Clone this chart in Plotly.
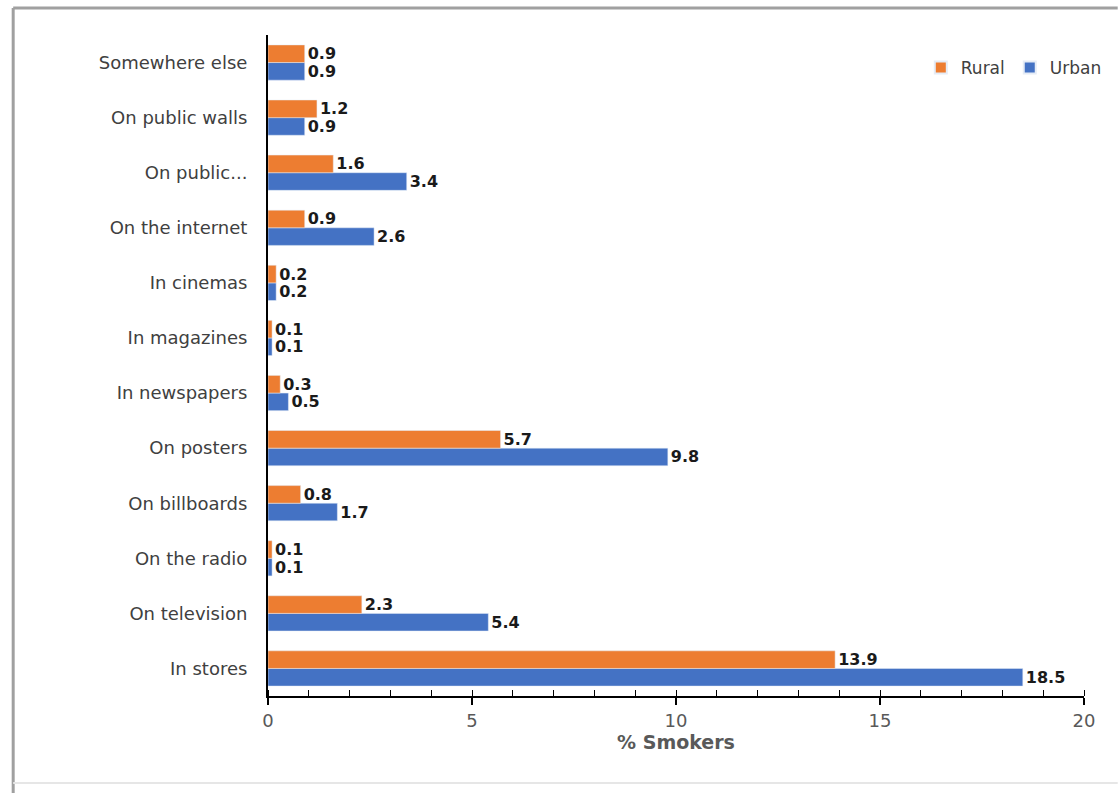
import plotly.graph_objects as go

categories = ["In stores", "On television", "On the radio", "On billboards", "On posters",
              "In newspapers", "In magazines", "In cinemas", "On the internet",
              "On public...", "On public walls", "Somewhere else"]
rural = [13.9, 2.3, 0.1, 0.8, 5.7, 0.3, 0.1, 0.2, 0.9, 1.6, 1.2, 0.9]
urban = [18.5, 5.4, 0.1, 1.7, 9.8, 0.5, 0.1, 0.2, 2.6, 3.4, 0.9, 0.9]

FONT = "DejaVu Sans"
LBL = dict(family=FONT, size=16, color="#1a1a1a", weight="bold")
fig = go.Figure()
fig.add_trace(go.Bar(y=categories, x=urban, name="Urban", orientation="h",
                     marker=dict(color="#4472C4"), text=[f"{v:.1f}" for v in urban],
                     textposition="outside", cliponaxis=False, constraintext="none",
                     textfont=LBL))
fig.add_trace(go.Bar(y=categories, x=rural, name="Rural", orientation="h",
                     marker=dict(color="#ED7D31"), text=[f"{v:.1f}" for v in rural],
                     textposition="outside", cliponaxis=False, constraintext="none",
                     textfont=LBL))

W, H = 1119, 793
L, R, T, B = 268, 28, 35, 97
pw, ph = W - L - R, H - T - B
def px(x): return (x - L) / pw
def py(y): return (H - B - y) / ph

fig.update_layout(
    width=W, height=H,
    margin=dict(l=L, r=R, t=T, b=B),
    barmode="group", bargap=0.36, bargroupgap=0,
    plot_bgcolor="white", paper_bgcolor="white",
    font=dict(family=FONT, size=15, color="#404040"),
    showlegend=True,
    legend=dict(orientation="h", traceorder="reversed", x=px(1114), xanchor="right",
                y=py(50), yanchor="top", font=dict(family=FONT, size=17, color="#404040"),
                itemwidth=30, itemsizing="constant", bgcolor="rgba(0,0,0,0)"),
    xaxis=dict(range=[0, 20], dtick=5, showgrid=False, zeroline=False,
               showline=True, linecolor="black", linewidth=2,
               ticks="outside", ticklen=7, tickcolor="black", tickwidth=2,
               minor=dict(dtick=1, ticks="inside", ticklen=6, tickcolor="black", tickwidth=1),
               tickfont=dict(family=FONT, size=18, color="#595959"),
               title=dict(text="<b>% Smokers</b>", font=dict(family=FONT, size=19, color="#595959"),
                          standoff=6)),
    yaxis=dict(categoryorder="array", categoryarray=categories, showgrid=False,
               zeroline=False, showline=True, linecolor="black", linewidth=2,
               ticks="", ticklabelstandoff=15,
               tickfont=dict(family=FONT, size=18, color="#404040")),
    shapes=[
        dict(type="line", xref="paper", yref="paper", x0=px(11), x1=px(11), y0=py(8), y1=py(800),
             line=dict(color="#a0a0a0", width=3)),
        dict(type="line", xref="paper", yref="paper", x0=px(11), x1=px(1125), y0=py(8), y1=py(8),
             line=dict(color="#a0a0a0", width=3)),
        dict(type="line", xref="paper", yref="paper", x0=px(11), x1=px(1125), y0=py(783), y1=py(783),
             line=dict(color="#e6e6e6", width=2)),
    ],
)
fig.write_html("out.html")
